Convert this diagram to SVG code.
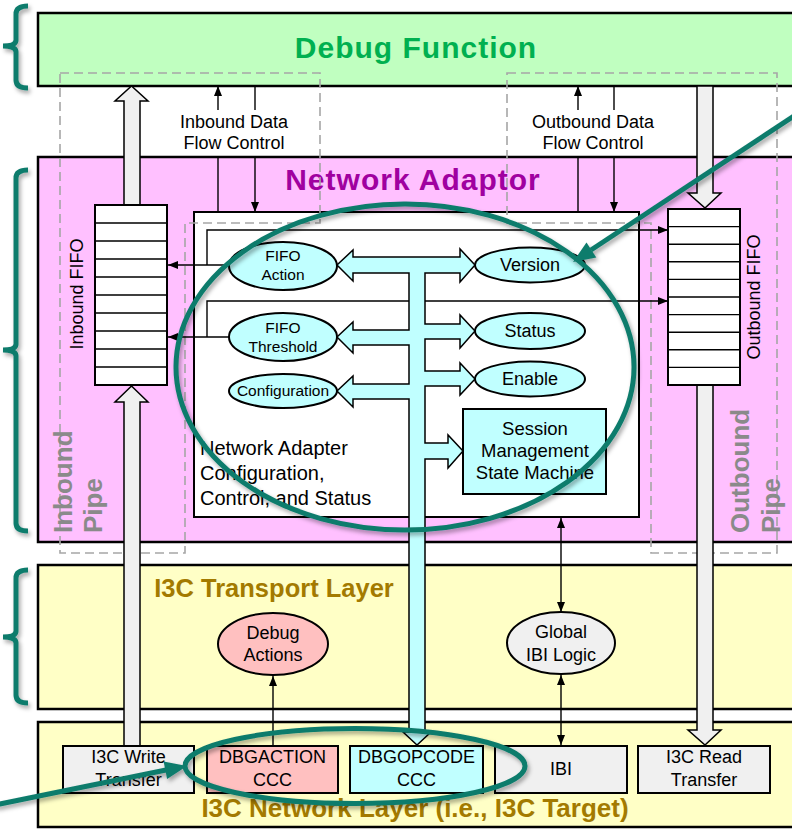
<svg xmlns="http://www.w3.org/2000/svg" width="792" height="829" viewBox="0 0 792 829">
<defs>
<style>
text{font-family:"Liberation Sans",Arial,Helvetica,sans-serif;fill:#000}
.layer{stroke:#000;stroke-width:2.5}
.box{stroke:#000;stroke-width:2}
.title{font-weight:bold;text-anchor:middle}
.c{text-anchor:middle}
.f18{font-size:18px}
.f15{font-size:15.5px}
.ln{stroke:#000;stroke-width:1.4;fill:none}
.pipe{fill:none;stroke:#a6a6a6;stroke-width:1.6;stroke-dasharray:9 5}
.hollow{fill:#f0f0f0;stroke:#000;stroke-width:1.5}
.teal{fill:none;stroke:#0f7b6c;stroke-width:5}
.pipetxt{font-weight:bold;font-size:26px;fill:#8a8a8a}
.cyan{fill:#c0ffff}
.gray{fill:#f0f0f0}
.pink{fill:#ffc0c0}
</style>
<marker id="ah" viewBox="0 0 10 8" refX="10" refY="4" markerWidth="10" markerHeight="8" markerUnits="userSpaceOnUse" orient="auto-start-reverse"><path d="M0,0 L10,4 L0,8 z" fill="#000"/></marker>
<filter id="sh" x="-10%" y="-10%" width="130%" height="130%"><feDropShadow dx="2" dy="3" stdDeviation="2" flood-color="#000" flood-opacity="0.35"/></filter>
</defs>
<rect x="0" y="0" width="792" height="829" fill="#fff"/>

<!-- layers -->
<g id="debug-function">
<rect x="38" y="13" width="780" height="73" fill="#c0ffc0" class="layer"/>
<text x="416" y="58" class="title" font-size="30" letter-spacing="1" fill="#00b050" style="fill:#00b050">Debug Function</text>
</g>
<g id="network-adaptor">
<rect x="38" y="157" width="780" height="385" fill="#ffc0ff" class="layer"/>
<text x="413" y="190" class="title" font-size="30" letter-spacing="1" style="fill:#a000a0">Network Adaptor</text>
</g>
<g id="transport-layer">
<rect x="38" y="565" width="780" height="144" fill="#ffffc6" class="layer"/>
<text x="274" y="597" class="title" font-size="25.5" style="fill:#a37a00">I3C Transport Layer</text>
</g>
<g id="network-layer">
<rect x="38" y="722" width="780" height="105" fill="#ffffc6" class="layer"/>
<text x="415" y="817" class="title" font-size="26" style="fill:#a37a00">I3C Network Layer (i.e., I3C Target)</text>
</g>

<!-- config box -->
<g id="config-box">
<rect x="194" y="212" width="445" height="305" fill="#fff" class="box"/>
<text x="200" y="455" font-size="20">Network Adapter</text>
<text x="200" y="480" font-size="20">Configuration,</text>
<text x="200" y="505" font-size="20">Control, and Status</text>
</g>

<!-- pipes -->
<g id="inbound-pipe">
<path class="pipe" d="M60 73 H320 V223 H185 V553 H60 Z"/>
<text transform="translate(72 533) rotate(-90)" class="pipetxt">Inbound</text>
<text transform="translate(102 533) rotate(-90)" class="pipetxt">Pipe</text>
</g>
<g id="outbound-pipe">
<path class="pipe" d="M507 73 H777 V553 H651 V223 H507 Z"/>
<text transform="translate(749 533) rotate(-90)" class="pipetxt">Outbound</text>
<text transform="translate(780 533) rotate(-90)" class="pipetxt">Pipe</text>
</g>

<!-- connectors -->
<g id="connectors">
<line class="ln" x1="218" y1="110" x2="218" y2="86" marker-end="url(#ah)"/>
<line class="ln" x1="255" y1="86" x2="255" y2="110"/>
<line class="ln" x1="218" y1="157" x2="218" y2="212"/>
<line class="ln" x1="255" y1="157" x2="255" y2="212" marker-end="url(#ah)"/>
<line class="ln" x1="578" y1="110" x2="578" y2="86" marker-end="url(#ah)"/>
<line class="ln" x1="614" y1="86" x2="614" y2="110"/>
<line class="ln" x1="578" y1="157" x2="578" y2="212"/>
<line class="ln" x1="614" y1="157" x2="614" y2="212" marker-end="url(#ah)"/>
<text x="234" y="128" class="c f18">Inbound Data</text>
<text x="234" y="149" class="c f18">Flow Control</text>
<text x="593" y="128" class="c f18">Outbound Data</text>
<text x="593" y="149" class="c f18">Flow Control</text>

<path class="ln" d="M207 265 V230 H668" marker-end="url(#ah)"/>
<line class="ln" x1="229" y1="265" x2="168" y2="265" marker-end="url(#ah)"/>
<path class="ln" d="M207 337 V301 H668" marker-end="url(#ah)"/>
<line class="ln" x1="229" y1="337" x2="168" y2="337" marker-end="url(#ah)"/>

<line class="ln" x1="561" y1="518" x2="561" y2="612" marker-start="url(#ah)" marker-end="url(#ah)"/>
<line class="ln" x1="561" y1="675" x2="561" y2="745" marker-start="url(#ah)" marker-end="url(#ah)"/>
<line class="ln" x1="273" y1="745" x2="273" y2="676" marker-end="url(#ah)"/>

<path class="hollow" d="M124 746 V402 H115 L131.5 386 L148 402 H140 V746 Z"/>
<path class="hollow" d="M124 205 V101 H115 L131.5 86 L148 101 H140 V205 Z"/>
<path class="hollow" d="M697 86 V193 H688 L705 208 L721 193 H713 V86 Z"/>
<path class="hollow" d="M697 385 V730 H688 L705 745 L721 730 H713 V385 Z"/>

<path id="bus" fill="#c0ffff" stroke="#000" stroke-width="1.5" stroke-linejoin="miter" d="M353 257 H460 V249 L475 265 L460 282 V273 H425 V324 H460 V315 L475 331 L460 348 V339 H425 V371 H460 V363 L475 379 L460 395 V386 H425 V443 H448 V435 L463 451 L448 468 V459 H425 V732 H431 L417 745 L403 732 H409 V399 H353 V407 L337 391 L353 376 V384 H409 V345 H353 V353 L337 337 L353 322 V330 H409 V273 H353 V281 L337 265 L353 250 Z"/>
</g>

<!-- FIFOs -->
<g id="inbound-fifo">
<rect x="95" y="205" width="72" height="180" fill="#fff" class="box"/>
<path class="ln" d="M95 223 H167 M95 241 H167 M95 259 H167 M95 277 H167 M95 295 H167 M95 313 H167 M95 331 H167 M95 349 H167 M95 367 H167"/>
<text transform="translate(83 294) rotate(-90)" class="c f18">Inbound FIFO</text>
</g>
<g id="outbound-fifo">
<rect x="668" y="209" width="72" height="176" fill="#fff" class="box"/>
<path class="ln" d="M668 226.6 H740 M668 244.2 H740 M668 261.8 H740 M668 279.4 H740 M668 297 H740 M668 314.6 H740 M668 332.2 H740 M668 349.8 H740 M668 367.4 H740"/>
<text transform="translate(760 297) rotate(-90)" class="c f18">Outbound FIFO</text>
</g>

<!-- ellipses -->
<g id="fifo-action"><ellipse cx="283" cy="266" rx="54" ry="24" class="box cyan"/>
<text x="283" y="261" class="c f15">FIFO</text><text x="283" y="280" class="c f15">Action</text></g>
<g id="fifo-threshold"><ellipse cx="283" cy="337" rx="54" ry="24" class="box cyan"/>
<text x="283" y="333" class="c f15">FIFO</text><text x="283" y="352" class="c f15">Threshold</text></g>
<g id="configuration"><ellipse cx="283" cy="391" rx="54" ry="17" class="box cyan"/>
<text x="283" y="396" class="c f15">Configuration</text></g>
<g id="version"><ellipse cx="530" cy="265" rx="55" ry="17.5" class="box cyan"/>
<text x="530" y="271" class="c f18">Version</text></g>
<g id="status"><ellipse cx="530" cy="331" rx="55" ry="18" class="box cyan"/>
<text x="530" y="337" class="c f18">Status</text></g>
<g id="enable"><ellipse cx="530" cy="379" rx="55" ry="17.5" class="box cyan"/>
<text x="530" y="385" class="c f18">Enable</text></g>
<g id="session-sm"><rect x="463" y="409" width="143" height="85" class="box cyan"/>
<text x="535" y="435" class="c" font-size="18.5">Session</text>
<text x="535" y="457" class="c" font-size="18.5">Management</text>
<text x="535" y="479" class="c" font-size="18.5">State Machine</text></g>

<g id="debug-actions"><ellipse cx="273" cy="644" rx="55" ry="31" class="box pink"/>
<text x="273" y="639" class="c f18">Debug</text><text x="273" y="661" class="c f18">Actions</text></g>
<g id="global-ibi"><ellipse cx="561" cy="643" rx="54" ry="31" class="box gray"/>
<text x="561" y="638" class="c f18">Global</text><text x="561" y="661" class="c f18">IBI Logic</text></g>

<!-- bottom boxes -->
<g id="i3c-write"><rect x="63" y="746" width="131" height="47" class="box gray" stroke-width="1.5"/>
<text x="128.5" y="763" class="c f18">I3C Write</text><text x="128.5" y="786" class="c f18">Transfer</text></g>
<g id="dbgaction"><rect x="207" y="746" width="131" height="47" class="box pink" stroke-width="1.5"/>
<text x="272.5" y="763" class="c f18">DBGACTION</text><text x="272.5" y="786" class="c f18">CCC</text></g>
<g id="dbgopcode"><rect x="350" y="746" width="133" height="47" class="box cyan" stroke-width="1.5"/>
<text x="416.5" y="763" class="c f18">DBGOPCODE</text><text x="416.5" y="786" class="c f18">CCC</text></g>
<g id="ibi"><rect x="495" y="746" width="132" height="47" class="box gray" stroke-width="1.5"/>
<text x="561" y="775" class="c f18">IBI</text></g>
<g id="i3c-read"><rect x="638" y="746" width="132" height="47" class="box gray" stroke-width="1.5"/>
<text x="704" y="763" class="c f18">I3C Read</text><text x="704" y="786" class="c f18">Transfer</text></g>

<!-- annotations -->
<g id="annotations" filter="url(#sh)">
<path class="teal" d="M28 6 Q16 6 16 14 V40 Q16 46 3 46 Q16 46 16 52 V80 Q16 88 28 88"/>
<path class="teal" d="M28 170 Q16 170 16 178 V344 Q16 350 3 350 Q16 350 16 356 V523 Q16 531 28 531"/>
<path class="teal" d="M28 570 Q16 570 16 578 V631 Q16 637 3 637 Q16 637 16 643 V695 Q16 703 28 703"/>
<ellipse class="teal" cx="405" cy="367" rx="229" ry="163"/>
<ellipse class="teal" cx="355" cy="766" rx="170" ry="37.5"/>
<line class="teal" x1="800" y1="112" x2="591" y2="250"/>
<polygon points="573,262 596.3,257.5 586.5,242.5" fill="#0f7b6c"/>
<line class="teal" x1="-5" y1="805" x2="166" y2="770"/>
<polygon points="187,766 167.1,779.1 163.6,761.5" fill="#0f7b6c"/>
</g>
</svg>
